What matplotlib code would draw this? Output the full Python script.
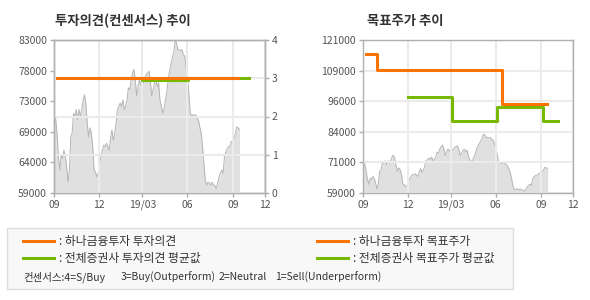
import matplotlib
matplotlib.use('Agg')
import matplotlib.pyplot as plt
from matplotlib.lines import Line2D
from matplotlib.patches import Rectangle
import numpy as np

plt.rcParams['font.family'] = ['Noto Sans CJK KR', 'DejaVu Sans']

# x axis: months since 2018-09
tick_pos = [0, 3, 5.9, 8.9, 11.95, 14.1]
tick_labels = ['09', '12', '19/03', '06', '09', '12']

# daily close (approx.), Sep 2018 .. mid Oct 2019
price = [70500, 70700, 68400, 64700, 62600, 64900, 64400, 65700, 64900, 63100,
         60700, 62600, 67800, 68400, 71500, 71000, 72100, 70500, 72100, 71000,
         72100, 73600, 74400, 73100, 69900, 67800, 69200, 68400, 66300, 62600,
         62300, 61500, 62100, 63600, 64700, 65700, 66500, 66300, 66800, 66300,
         65700, 67600, 68900, 67300, 68400, 69900, 72100, 72600, 73100, 72600,
         73600, 72100, 72600, 73600, 75500, 75200, 76800, 77800, 78400, 76800,
         74200, 75700, 76800, 76000, 76800, 76300, 76800, 77600, 77800, 78100,
         76500, 74200, 75200, 76300, 76800, 75700, 76300, 73600, 72600, 71500,
         72300, 73600, 74900, 76800, 78100, 79200, 80200, 81000, 82800, 82600,
         81500, 81500, 81300, 81500, 80700, 80500, 78900, 77300, 74700, 71800,
         71000, 71300, 71000, 71300, 70700, 70500, 69400, 68400, 66300, 63600,
         61000, 60200, 60700, 60600, 60200, 60700, 60200, 60200, 59700, 60500,
         61500, 62100, 62600, 62100, 64700, 65500, 66000, 66300, 66300, 67100,
         66800, 67600, 68400, 69400, 69200, 68900]
price_x = np.linspace(0.02, 12.4, len(price))

# consensus opinion (4=S/Buy .. 1=Sell)
hana_op_x = [0.2, 12.3]
hana_op = [3, 3]
avg_op_x = [3.0, 5.9, 8.95, 13.0]
avg_op = [3, 2.96, 3, 3]

# target price
hana_tp_x = [0.2, 0.94, 9.33, 12.35]
hana_tp = [115500, 109000, 95000, 95000]
avg_tp_x = [3.0, 5.98, 9.0, 12.1, 13.1]
avg_tp = [98000, 88000, 94000, 88000, 88000]

left_ticks = np.linspace(59000, 83000, 6)
left_labels = ['59000', '64000', '69000', '73000', '78000', '83000']
right_ticks = np.linspace(59000, 121000, 6)
right_labels = ['59000', '71000', '84000', '96000', '109000', '121000']

ORANGE = '#ff7300'
GREEN = '#78b800'
FILL = '#e0e0e0'
EDGE = '#b5b5b5'
GRID = '#ebebeb'
SPINE = '#b0b0b0'
TXT = '#555555'


def style(ax):
    for s in ax.spines.values():
        s.set_color(SPINE)
        s.set_linewidth(1)
    ax.tick_params(colors=SPINE, labelcolor=TXT, labelsize=7.5, length=3, width=1, pad=2)


fig = plt.figure(figsize=(5.9, 3.0), dpi=100)

# ---- left: opinion chart
ax1 = fig.add_axes([54 / 590, 1 - 193 / 300, 211 / 590, 153 / 300])
ax1.fill_between(price_x, 59000, price, color=FILL, lw=0, zorder=1)
ax1.plot(price_x, price, color=EDGE, lw=0.7, zorder=1.2)
ax1.set_xlim(0, 14.1)
ax1.set_ylim(59000, 83000)
ax1.set_yticks(left_ticks)
ax1.set_yticklabels(left_labels)
ax1.set_xticks(tick_pos)
ax1.set_xticklabels(tick_labels)
ax1.grid(axis='x', color=GRID, lw=1.5)
ax1.set_axisbelow('line')
style(ax1)

ax1b = ax1.twinx()
ax1b.set_ylim(0, 4)
ax1b.set_yticks([0, 1, 2, 3, 4])
ax1b.grid(axis='y', color=GRID, lw=1.5, zorder=0.5)
ax1b.step(avg_op_x, avg_op, where='post', color=GREEN, lw=2.2, zorder=3)
ax1b.step(hana_op_x, hana_op, where='post', color=ORANGE, lw=2.2, zorder=4)
style(ax1b)

fig.text(55 / 590, 1 - 21 / 300, '투자의견(컨센서스) 추이', fontsize=9.6, fontweight='bold',
         color='#333333', va='center')

# ---- right: target price chart
ax2 = fig.add_axes([363 / 590, 1 - 193 / 300, 210 / 590, 153 / 300])
ax2.fill_between(price_x, 59000, price, color=FILL, lw=0, zorder=1)
ax2.plot(price_x, price, color=EDGE, lw=0.7, zorder=1.2)
ax2.step(avg_tp_x, avg_tp, where='post', color=GREEN, lw=2.2, zorder=3)
ax2.step(hana_tp_x, hana_tp, where='post', color=ORANGE, lw=2.2, zorder=4)
ax2.set_xlim(0, 14.1)
ax2.set_ylim(59000, 121000)
ax2.set_yticks(right_ticks)
ax2.set_yticklabels(right_labels)
ax2.set_xticks(tick_pos)
ax2.set_xticklabels(tick_labels)
ax2.grid(color=GRID, lw=1.5)
ax2.set_axisbelow('line')
style(ax2)

fig.text(367 / 590, 1 - 21 / 300, '목표주가 추이', fontsize=9.6, fontweight='bold',
         color='#333333', va='center')

# ---- legend box
fig.add_artist(Rectangle((7 / 590, 1 - 289 / 300), 506 / 590, 61 / 300,
                         transform=fig.transFigure, facecolor='#f8f8f8',
                         edgecolor='#dcdcdc', lw=1))

legend_items = [
    (23, 241, ORANGE, ': 하나금융투자 투자의견'),
    (23, 258, GREEN, ': 전체증권사 투자의견 평균값'),
    (317, 241, ORANGE, ': 하나금융투자 목표주가'),
    (317, 258, GREEN, ': 전체증권사 목표주가 평균값'),
]
for x0, y0, c, label in legend_items:
    fig.add_artist(Line2D([x0 / 590, (x0 + 31) / 590], [1 - y0 / 300] * 2,
                          transform=fig.transFigure, color=c, lw=2.2))
    fig.text((x0 + 36) / 590, 1 - y0 / 300, label, fontsize=8.5, color='#333333',
             va='center')

for x0, s in [(23, '컨센서스:4=S/Buy'), (121, '3=Buy(Outperform)'),
              (219, '2=Neutral'), (275, '1=Sell(Underperform)')]:
    fig.text(x0 / 590, 1 - 277 / 300, s, fontsize=7.5, color='#333333', va='center')

fig.savefig('out.png', dpi=100)
